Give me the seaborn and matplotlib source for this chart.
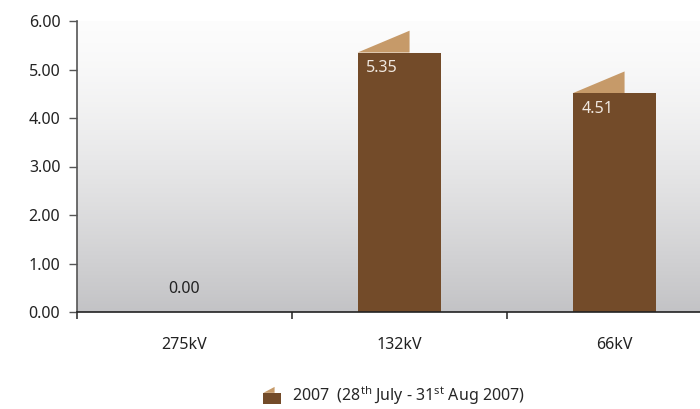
import numpy as np
import pandas as pd
import matplotlib
matplotlib.use("Agg")
import matplotlib.pyplot as plt
import seaborn as sns
from matplotlib.patches import Polygon, Rectangle
from matplotlib.legend_handler import HandlerBase

categories = ["275kV", "132kV", "66kV"]
values = [0.00, 5.35, 4.51]
value_labels = ["0.00", "5.35", "4.51"]
yticks = [0, 1, 2, 3, 4, 5, 6]
legend_label = r"2007  (28$^{\mathrm{th}}$ July - 31$^{\mathrm{st}}$ Aug 2007)"

BROWN = "#734b29"
TAN = "#c69a69"
FS = 11.5

sns.set_theme(style="white")
plt.rcParams["font.family"] = ["Noto Sans", "DejaVu Sans"]
plt.rcParams["mathtext.fontset"] = "custom"
plt.rcParams["mathtext.rm"] = "Noto Sans"
plt.rcParams["mathtext.it"] = "Noto Sans"

fig = plt.figure(figsize=(7, 4.09), dpi=100)
ax = fig.add_axes([77 / 700, 97 / 409, 623 / 700, 291 / 409])

df = pd.DataFrame({"cat": categories, "val": values})
sns.barplot(data=df, x="cat", y="val", color=BROWN, width=0.39, ax=ax,
            saturation=1, zorder=3, edgecolor="none", linewidth=0)

xmax = -0.5 + 623 / 215
ax.set_xlim(-0.5, xmax)
ax.set_ylim(0, 6)

# background gradient
grad = np.linspace(0, 1, 256).reshape(-1, 1)
top = np.array([0.99, 0.99, 0.99])
bot = np.array([0.765, 0.765, 0.775])
img = top + (bot - top) * (grad ** 1.4)
img = img[:, None, :].repeat(2, axis=1)
ax.imshow(img, extent=[-0.5, xmax, 0, 6], origin="upper", aspect="auto", zorder=0)

# 3D-ish tabs on top of bars and value labels
for p, v, lab in zip(ax.patches, values, value_labels):
    x0 = p.get_x()
    w = p.get_width()
    h = p.get_height()
    if h > 0:
        tri = Polygon([[x0, h], [x0 + w * 0.62, h + 0.45], [x0 + w * 0.62, h]],
                      closed=True, facecolor=TAN, edgecolor="none", zorder=2)
        ax.add_patch(tri)
        ax.text(x0 + w * 0.105, h - 0.15, lab, ha="left", va="top",
                color="#f0e8e0", fontsize=FS, zorder=4)
    else:
        ax.text(x0 + w / 2, 0.3, lab, ha="center", va="bottom",
                color="#222222", fontsize=FS, zorder=4)

ax.set_yticks(yticks)
ax.set_yticklabels([f"{t:.2f}" for t in yticks], fontsize=FS, color="#222222")
ax.set_xticks(range(len(categories)))
ax.set_xticklabels(categories, fontsize=FS, color="#222222")
ax.set_xlabel("")
ax.set_ylabel("")
ax.tick_params(axis="y", which="major", direction="out", length=6, width=1,
               color="#555555", pad=6, left=True)
ax.tick_params(axis="x", which="major", length=0, pad=18)
ax.set_xticks([-0.5, 0.5, 1.5], minor=True)
ax.tick_params(axis="x", which="minor", direction="out", length=5, width=1.2,
               color="#333333", bottom=True)

for s in ["top", "right"]:
    ax.spines[s].set_visible(False)
ax.spines["left"].set_color("#555555")
ax.spines["left"].set_linewidth(1.2)
ax.spines["bottom"].set_color("#222222")
ax.spines["bottom"].set_linewidth(1.2)
ax.spines["left"].set_zorder(5)
ax.spines["bottom"].set_zorder(5)


class TabHandler(HandlerBase):
    def create_artists(self, legend, orig_handle, xdescent, ydescent, width,
                       height, fontsize, trans):
        s = 13
        x = (width - s) / 2 - xdescent
        y = -ydescent - 2
        r = Rectangle((x, y), s, s * 0.62, facecolor=BROWN, edgecolor="none",
                      transform=trans)
        t = Polygon([[x, y + s * 0.62], [x + s * 0.62, y + s * 0.95],
                     [x + s * 0.62, y + s * 0.62]], closed=True,
                    facecolor=TAN, edgecolor="none", transform=trans)
        return [r, t]


h = Rectangle((0, 0), 1, 1)
fig.legend([h], [legend_label], handler_map={Rectangle: TabHandler()},
           loc="center", bbox_to_anchor=(0.564, 0.032), frameon=False,
           fontsize=FS, handlelength=1.0, handletextpad=0.75)

fig.savefig("out.png", dpi=100)
